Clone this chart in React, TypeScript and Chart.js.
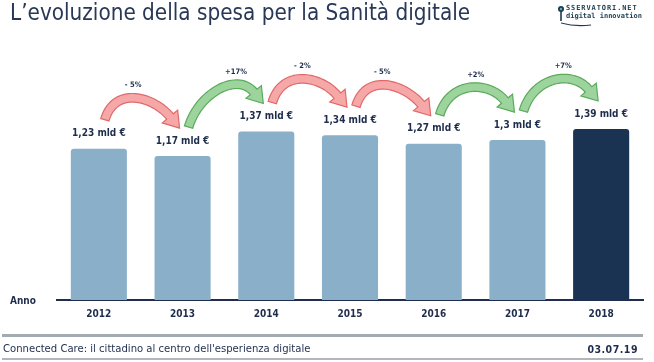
import React, { useEffect, useRef } from 'react';
import { Chart, registerables } from 'chart.js';

Chart.register(...registerables);

const categories = ['2012', '2013', '2014', '2015', '2016', '2017', '2018'];
const spending = [1.23, 1.17, 1.37, 1.34, 1.27, 1.3, 1.39];
const changeLabels = ['- 5%', '+17%', '- 2%', '- 5%', '+2%', '+7%'];
const axisTitle = 'Anno';
const titleText = 'L\u2019evoluzione della spesa per la Sanità digitale';
const footerText = "Connected Care: il cittadino al centro dell'esperienza digitale";
const dateText = '03.07.19';

const NAVY = '#1f2d4d';
const LIGHT_BAR = '#8aafc9';
const DARK_BAR = '#1b3352';
const FONT = '"DejaVu Sans Condensed", "DejaVu Sans", sans-serif';
const RED = { fill: '#f6a8a8', stroke: '#e06a6a' };
const GREEN = { fill: '#9dd39d', stroke: '#5aab5a' };

const fmt = (v: number) => String(v).replace('.', ',') + ' mld €';

type P = { x: number; y: number };

function drawArrow(ctx: CanvasRenderingContext2D, T: P, H: P, col: { fill: string; stroke: string }): P {
  const headLen = 15;
  const headHalf = 10;
  const bodyHalf = 4.3;
  const dl = Math.hypot(0.64, 0.77);
  const dir = { x: 0.64 / dl, y: 0.77 / dl };
  const B = { x: H.x - dir.x * headLen, y: H.y - dir.y * headLen };
  const P1 = { x: T.x + 10, y: T.y - 34 };
  const P2 = { x: B.x - dir.x * 26, y: B.y - dir.y * 26 };
  const N = 40;
  const left: P[] = [];
  const right: P[] = [];
  let top: P = { x: T.x, y: T.y };
  for (let k = 0; k <= N; k++) {
    const t = k / N;
    const mt = 1 - t;
    const x = mt * mt * mt * T.x + 3 * mt * mt * t * P1.x + 3 * mt * t * t * P2.x + t * t * t * B.x;
    const y = mt * mt * mt * T.y + 3 * mt * mt * t * P1.y + 3 * mt * t * t * P2.y + t * t * t * B.y;
    let tx = 3 * mt * mt * (P1.x - T.x) + 6 * mt * t * (P2.x - P1.x) + 3 * t * t * (B.x - P2.x);
    let ty = 3 * mt * mt * (P1.y - T.y) + 6 * mt * t * (P2.y - P1.y) + 3 * t * t * (B.y - P2.y);
    const l = Math.hypot(tx, ty) || 1;
    tx /= l;
    ty /= l;
    const nx = -ty;
    const ny = tx;
    const a = { x: x + nx * bodyHalf, y: y + ny * bodyHalf };
    const b = { x: x - nx * bodyHalf, y: y - ny * bodyHalf };
    left.push(a);
    right.push(b);
    if (b.y < top.y) top = b;
    if (a.y < top.y) top = a;
  }
  const n = { x: -dir.y, y: dir.x };
  ctx.beginPath();
  ctx.moveTo(left[0].x, left[0].y);
  for (const p of left) ctx.lineTo(p.x, p.y);
  ctx.lineTo(B.x + n.x * headHalf, B.y + n.y * headHalf);
  ctx.lineTo(H.x, H.y);
  ctx.lineTo(B.x - n.x * headHalf, B.y - n.y * headHalf);
  for (let k = right.length - 1; k >= 0; k--) ctx.lineTo(right[k].x, right[k].y);
  ctx.closePath();
  ctx.fillStyle = col.fill;
  ctx.fill();
  ctx.lineWidth = 1.2;
  ctx.lineJoin = 'miter';
  ctx.strokeStyle = col.stroke;
  ctx.stroke();
  return top;
}

const overlayPlugin = {
  id: 'overlay',
  afterDatasetsDraw(chart: any) {
    const ctx: CanvasRenderingContext2D = chart.ctx;
    const bars = chart.getDatasetMeta(0).data;
    ctx.save();
    const labelY = bars.map((b: any) => b.y - 15);
    ctx.font = `bold 10px ${FONT}`;
    ctx.fillStyle = NAVY;
    ctx.textAlign = 'center';
    ctx.textBaseline = 'middle';
    bars.forEach((b: any, i: number) => ctx.fillText(fmt(spending[i]), b.x, labelY[i]));
    for (let i = 0; i < bars.length - 1; i++) {
      const up = spending[i + 1] > spending[i];
      const T = { x: bars[i].x + 6, y: labelY[i] - 14 };
      const H = { x: bars[i + 1].x - 3, y: labelY[i + 1] - 13 };
      const peak = drawArrow(ctx, T, H, up ? GREEN : RED);
      ctx.font = `bold 7.5px ${FONT}`;
      ctx.fillStyle = NAVY;
      ctx.fillText(changeLabels[i], peak.x, peak.y - 8);
    }
    ctx.restore();
  },
};

export default function App() {
  const ref = useRef<HTMLCanvasElement | null>(null);
  useEffect(() => {
    if (!ref.current) return;
    const chart = new Chart(ref.current, {
      type: 'bar',
      data: {
        labels: categories,
        datasets: [
          {
            data: spending,
            backgroundColor: spending.map((_, i) => (i === spending.length - 1 ? DARK_BAR : LIGHT_BAR)),
            borderRadius: 3,
            borderSkipped: 'bottom',
            barPercentage: 0.67,
            categoryPercentage: 1,
          },
        ],
      },
      options: {
        animation: false,
        responsive: false,
        devicePixelRatio: 1,
        layout: { padding: { left: 57, right: 11, top: 54, bottom: 0 } },
        plugins: { legend: { display: false }, tooltip: { enabled: false } },
        scales: {
          x: {
            grid: { display: false, drawTicks: false },
            border: { display: true, color: NAVY, width: 2 },
            ticks: { color: NAVY, font: { family: FONT, size: 10, weight: 'bold' }, padding: 8 },
            afterFit: (s: any) => {
              s.height = 62;
            },
          },
          y: { display: false, min: 0, max: 2.0 },
        },
      },
      plugins: [overlayPlugin],
    } as any);
    return () => chart.destroy();
  }, []);

  const abs = (o: React.CSSProperties): React.CSSProperties => ({ position: 'absolute', ...o });

  return (
    <div style={{ position: 'fixed', left: 0, top: 0, width: 654, height: 362, background: '#fff', overflow: 'hidden' }}>
      <canvas ref={ref} width={654} height={362} style={abs({ left: 0, top: 0, width: 654, height: 362 })} />
      <div style={abs({ left: 10, top: 1, fontFamily: FONT, fontSize: 22.3, lineHeight: '22px', color: '#283856', whiteSpace: 'nowrap' })}>
        {titleText}
      </div>
      <svg width={20} height={30} style={abs({ left: 556, top: 3 })}>
        <circle cx={5} cy={6} r={3} fill="#1d3c4f" />
        <circle cx={5} cy={6} r={1.2} fill="#5fb0c0" />
        <rect x={4.2} y={8} width={1.6} height={10} fill="#1d3c4f" />
      </svg>
      <svg width={40} height={10} style={abs({ left: 561, top: 21 })}>
        <path d="M0 2 Q 14 6 30 4" stroke="#1d3c4f" strokeWidth={1.2} fill="none" />
      </svg>
      <div style={abs({ left: 566, top: 4, fontFamily: '"DejaVu Sans Mono", monospace', fontWeight: 'bold', fontSize: 7, lineHeight: '8px', letterSpacing: 0.9, color: '#1d3c4f', whiteSpace: 'nowrap' })}>
        SSERVATORI.NET
      </div>
      <div style={abs({ left: 566, top: 12, fontFamily: '"DejaVu Sans Mono", monospace', fontWeight: 'bold', fontSize: 7, lineHeight: '9px', color: '#1d3c4f', whiteSpace: 'nowrap' })}>
        digital innovation
      </div>
      <div style={abs({ left: 10, top: 295, fontFamily: FONT, fontSize: 10, fontWeight: 'bold', lineHeight: '12px', color: NAVY })}>
        {axisTitle}
      </div>
      <div style={abs({ left: 2, top: 334, width: 641, height: 3, background: '#a2aab2' })} />
      <div style={abs({ left: 3, top: 343, fontFamily: FONT, fontSize: 11.2, lineHeight: '12px', color: NAVY, whiteSpace: 'nowrap' })}>
        {footerText}
      </div>
      <div style={abs({ right: 16, top: 343, fontFamily: FONT, fontSize: 10.5, fontWeight: 'bold', lineHeight: '12px', color: NAVY, letterSpacing: 0.5 })}>
        {dateText}
      </div>
      <div style={abs({ left: 2, top: 358, width: 641, height: 2, background: '#b0b6bc' })} />
    </div>
  );
}
